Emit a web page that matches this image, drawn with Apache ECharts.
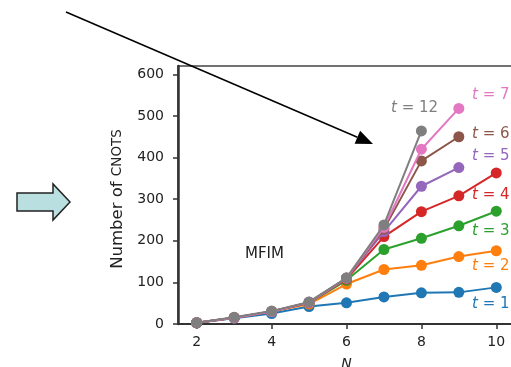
<!DOCTYPE html>
<html>
<head>
<meta charset="utf-8">
<script src="https://cdn.jsdelivr.net/npm/echarts@6/dist/echarts.min.js"></script>
<style>
  html, body { margin: 0; padding: 0; background: #fff; }
  #chart { width: 511px; height: 367px; }
</style>
</head>
<body>
<div id="chart"></div>
<script>
// 量子比特数 N
const nValues = [2, 3, 4, 5, 6, 7, 8, 9, 10]
// 各 t 的 CNOT 数量
const t1 = [3, 14, 25, 42, 51, 65, 75, 76, 88]
const t2 = [3, 15, 30, 48, 96, 131, 141, 162, 176]
const t3 = [3, 15, 30, 51, 105, 179, 206, 236, 271]
const t4 = [3, 15, 30, 51, 108, 210, 270, 308, 363]
const t5 = [3, 15, 30, 52, 110, 222, 331, 376]
const t6 = [3, 15, 30, 52, 110, 228, 392, 450]
const t7 = [3, 15, 30, 52, 110, 232, 420, 518]
const t12 = [3, 16, 31, 53, 111, 238, 464]
const seriesNames = ['t = 1', 't = 2', 't = 3', 't = 4', 't = 5', 't = 6', 't = 7', 't = 12']
const xTicks = [2, 4, 6, 8, 10]
const yTicks = [0, 100, 200, 300, 400, 500, 600]

const colors = ['#1f77b4', '#ff7f0e', '#2ca02c', '#d62728', '#9467bd', '#8c564b', '#e377c2', '#7f7f7f']
const allData = [t1, t2, t3, t4, t5, t6, t7, t12]

const chart = echarts.init(document.getElementById('chart'))

// 标签位置 [x, y] 像素
const labelPos = [
  [472, 306], [472, 268], [472, 233], [472, 197],
  [472, 158], [472, 136], [472, 97], [391, 110]
]

function tLabel(i) {
  const num = seriesNames[i].split('= ')[1]
  return {
    type: 'text',
    left: labelPos[i][0],
    top: labelPos[i][1] - 9,
    style: {
      text: '{i|t} = ' + num,
      fill: colors[i],
      font: '15px "DejaVu Sans"',
      rich: {
        i: { fontStyle: 'italic', fontFamily: 'DejaVu Sans', fontSize: 15, fill: colors[i] }
      }
    }
  }
}

// 箭头
const tip = [373, 144]
const start = [66, 12]
const dx = tip[0] - start[0], dy = tip[1] - start[1]
const len = Math.sqrt(dx * dx + dy * dy)
const ux = dx / len, uy = dy / len
const headL = 17, headW = 7
const base = [tip[0] - ux * headL, tip[1] - uy * headL]

const option = {
  animation: false,
  grid: {
    left: 178, top: 66, width: 337, height: 258,
    outerBoundsMode: 'none',
    show: true, borderColor: '#444', borderWidth: 1.5
  },
  xAxis: {
    type: 'value', min: 1.5, max: 10.5,
    name: 'N', nameLocation: 'middle', nameGap: 33,
    nameTextStyle: { fontFamily: 'DejaVu Sans', fontStyle: 'italic', fontSize: 14, color: '#222' },
    axisLine: { show: true, onZero: false, lineStyle: { color: '#333', width: 2 } },
    axisTick: { show: true, length: 5, lineStyle: { color: '#333', width: 1.5 }, customValues: xTicks },
    axisLabel: { color: '#222', fontFamily: 'DejaVu Sans', fontSize: 14, margin: 11, customValues: xTicks },
    splitLine: { show: false }
  },
  yAxis: {
    type: 'value', min: 0, max: 620,
    name: 'Number of {s|CNOTS}', nameLocation: 'middle', nameGap: 50,
    nameTextStyle: {
      fontFamily: 'DejaVu Sans', fontSize: 16.5, color: '#222',
      padding: [0, 8, 0, 0],
      rich: { s: { fontFamily: 'DejaVu Sans', fontSize: 13.5, color: '#222' } }
    },
    axisLine: { show: true, lineStyle: { color: '#333', width: 2.5 } },
    axisTick: { show: true, length: 5, lineStyle: { color: '#333', width: 1.5 }, customValues: yTicks },
    axisLabel: { color: '#222', fontFamily: 'DejaVu Sans', fontSize: 14, margin: 14, customValues: yTicks },
    splitLine: { show: false }
  },
  series: allData.map((vals, i) => ({
    name: seriesNames[i],
    type: 'line',
    data: vals.map((v, j) => [nValues[j], v]),
    symbol: 'circle',
    symbolSize: 11,
    showSymbol: true,
    lineStyle: { color: colors[i], width: 2 },
    itemStyle: { color: colors[i] },
    z: 2 + i
  })),
  graphic: [
    ...seriesNames.map((_, i) => tLabel(i)),
    {
      type: 'text', left: 245, top: 247,
      style: { text: 'MFIM', fill: '#222', font: '15px "DejaVu Sans"' }
    },
    {
      type: 'line',
      shape: { x1: start[0], y1: start[1], x2: base[0], y2: base[1] },
      style: { stroke: '#000', lineWidth: 1.5 }
    },
    {
      type: 'polygon',
      shape: {
        points: [
          tip,
          [base[0] - uy * headW, base[1] + ux * headW],
          [base[0] + uy * headW, base[1] - ux * headW]
        ]
      },
      style: { fill: '#000' }
    },
    {
      type: 'polygon',
      shape: {
        points: [[17, 193], [53, 193], [53, 184], [70, 202], [53, 220], [53, 211], [17, 211]]
      },
      style: { fill: '#b9dfe0', stroke: '#222', lineWidth: 1.5 }
    }
  ]
}

chart.setOption(option)
</script>
</body>
</html>
